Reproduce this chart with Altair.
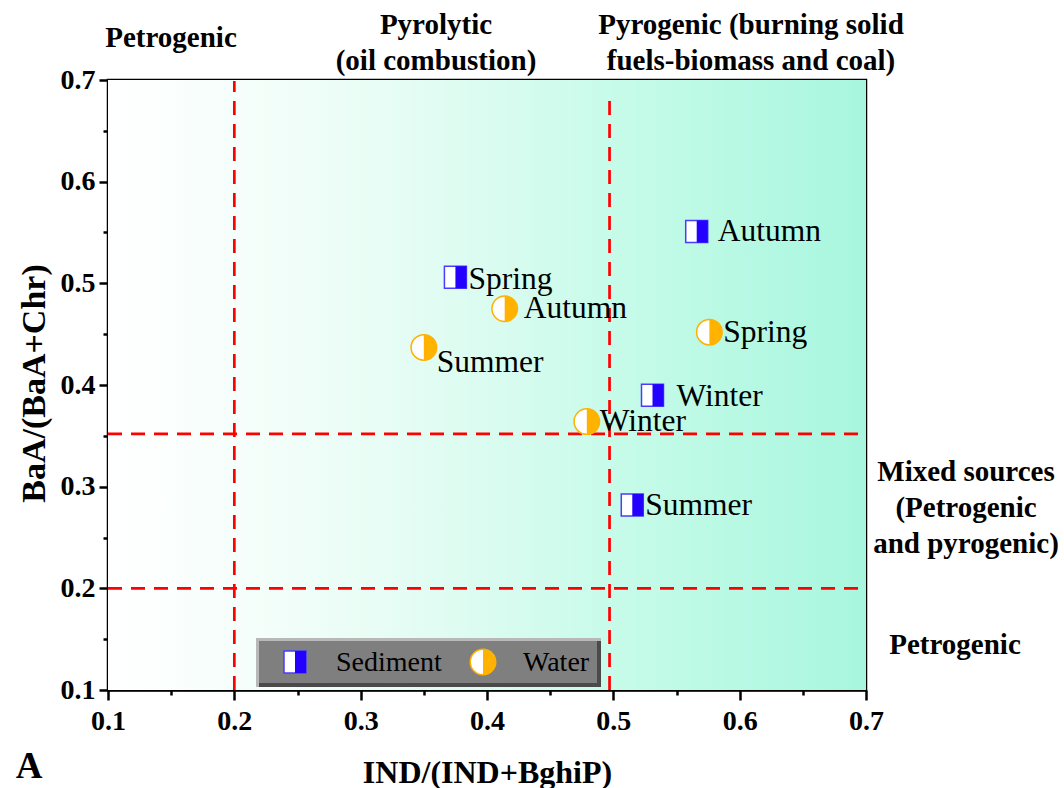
import altair as alt
import pandas as pd

# ---------------- data ----------------
sed_season = ["Spring", "Autumn", "Winter", "Summer"]
sed_x = [0.375, 0.566, 0.531, 0.515]
sed_y = [0.506, 0.551, 0.390, 0.282]

wat_season = ["Autumn", "Summer", "Spring", "Winter"]
wat_x = [0.414, 0.350, 0.576, 0.479]
wat_y = [0.475, 0.437, 0.452, 0.364]

x_ticks = [0.1, 0.15, 0.2, 0.25, 0.3, 0.35, 0.4, 0.45, 0.5, 0.55, 0.6, 0.65, 0.7]
y_ticks = [0.1, 0.15, 0.2, 0.25, 0.3, 0.35, 0.4, 0.45, 0.5, 0.55, 0.6, 0.65, 0.7]

v_lines = [0.2, 0.497]
h_lines = [0.2, 0.352]

# label pixel offsets (layout)
sed_label_off = [(13, 3), (21, 1), (24, 2), (13, 1)]
wat_label_off = [(19, 0), (13, 16), (14, 1), (13, 0)]

# ---------------- layout helpers ----------------
X0, X1, Y0, Y1 = 0.1, 0.7, 0.1, 0.7
W, H = 758, 610
LEFT, TOP = 108, 80


def px2x(px):
    return X0 + (px - LEFT) / W * (X1 - X0)


def py2y(py):
    return Y0 + (TOP + H - py) / H * (Y1 - Y0)


FONT = "Liberation Serif"
BLUE = "#2400ff"
BLUE_EDGE = "#4a3cff"
ORANGE = "#ffb300"
ORANGE_EDGE = "#ffb000"
RED = "#ff0000"

xs = alt.Scale(domain=[X0, X1], nice=False, zero=False)
ys = alt.Scale(domain=[Y0, Y1], nice=False, zero=False)

minor_test = "round(datum.value*100) % 10 != 0"
label_expr = "round(datum.value*100) % 10 == 0 ? format(datum.value, '.1f') : ''"

x_axis = alt.Axis(
    values=x_ticks, labelExpr=label_expr, title="IND/(IND+BghiP)",
    tickSize={"condition": {"test": minor_test, "value": 5}, "value": 10},
    tickWidth=2.5, tickColor="black", domainWidth=2.5, domainColor="black",
    labelFont=FONT, labelFontWeight="bold", labelFontSize=28, labelColor="black",
    labelPadding=7, labelFlush=False, labelOverlap=False, grid=False,
    titleFont=FONT, titleFontWeight="bold", titleFontSize=32, titleColor="black",
    titleY=82, titleBaseline="middle", titleX=W / 2,
)
y_axis = alt.Axis(
    values=y_ticks, labelExpr=label_expr, title="BaA/(BaA+Chr)",
    tickSize={"condition": {"test": minor_test, "value": 5}, "value": 9},
    tickWidth=2.5, tickColor="black", domainWidth=2.5, domainColor="black",
    labelFont=FONT, labelFontWeight="bold", labelFontSize=28, labelColor="black",
    labelPadding=4, labelFlush=False, labelOverlap=False, grid=False,
    titleFont=FONT, titleFontWeight="bold", titleFontSize=34, titleColor="black",
    titleX=34 - LEFT, titleY=H / 2 - 2, titleAngle=-90, titleBaseline="middle",
    titleAlign="center",
)

# ---------------- background gradient ----------------
bg_df = pd.DataFrame({"x": [X0], "x2": [X1], "y": [Y0], "y2": [Y1]})
gradient = alt.LinearGradient(
    gradient="linear",
    stops=[
        alt.GradientStop(color="#ffffff", offset=0),
        alt.GradientStop(color="#f4fefa", offset=0.2),
        alt.GradientStop(color="#e0fcf2", offset=0.45),
        alt.GradientStop(color="#c4fbe8", offset=0.7),
        alt.GradientStop(color="#a8f6de", offset=1),
    ],
    x1=0, x2=1, y1=0, y2=0,
)
background = alt.Chart(bg_df).mark_rect(color=gradient).encode(
    x=alt.X("x:Q", scale=xs, axis=x_axis),
    x2="x2:Q",
    y=alt.Y("y:Q", scale=ys, axis=y_axis),
    y2="y2:Q",
)

# ---------------- dashed lines ----------------
vdf = pd.DataFrame({"x": v_lines, "y": [Y0, Y0], "y2": [Y1 - 0.001, Y1 - 0.012]})
hdf = pd.DataFrame({"y": h_lines, "x": [X0, X0], "x2": [X1, X1]})
vrules = alt.Chart(vdf).mark_rule(color=RED, strokeWidth=2.7, strokeDash=[14, 9]).encode(
    x=alt.X("x:Q", scale=xs), y=alt.Y("y:Q", scale=ys), y2="y2:Q"
)
hrules = alt.Chart(hdf).mark_rule(color=RED, strokeWidth=2.7, strokeDash=[14, 9]).encode(
    y=alt.Y("y:Q", scale=ys), x=alt.X("x:Q", scale=xs), x2="x2:Q"
)

# ---------------- points ----------------
sed_df = pd.DataFrame({"x": sed_x, "y": sed_y, "label": sed_season})
wat_df = pd.DataFrame({"x": wat_x, "y": wat_y, "label": wat_season})

SQ_HALF = "M0,-1H1V1H0Z"
CI_HALF = "M0,-1A1,1,0,0,1,0,1Z"


def sed_marks(df):
    base = alt.Chart(df).encode(x=alt.X("x:Q", scale=xs), y=alt.Y("y:Q", scale=ys))
    a = base.mark_point(shape="square", size=484, filled=True, fill="white",
                        stroke=BLUE_EDGE, strokeWidth=1.5, opacity=1)
    b = base.mark_point(shape=SQ_HALF, size=484, filled=True, fill=BLUE,
                        strokeWidth=0, opacity=1)
    return [a, b]


def wat_marks(df):
    base = alt.Chart(df).encode(x=alt.X("x:Q", scale=xs), y=alt.Y("y:Q", scale=ys))
    a = base.mark_point(shape="circle", size=650, filled=True, fill="white",
                        stroke=ORANGE_EDGE, strokeWidth=1.5, opacity=1)
    b = base.mark_point(shape=CI_HALF, size=650, filled=True, fill=ORANGE,
                        strokeWidth=0, opacity=1)
    return [a, b]


layers = [background, vrules, hrules]
layers += sed_marks(sed_df)
layers += wat_marks(wat_df)

# point labels
for df, offs in ((sed_df, sed_label_off), (wat_df, wat_label_off)):
    for i, (dx, dy) in enumerate(offs):
        layers.append(
            alt.Chart(df.iloc[[i]]).mark_text(
                align="left", baseline="middle", dx=dx, dy=dy,
                font=FONT, fontSize=31.5, color="black"
            ).encode(x=alt.X("x:Q", scale=xs), y=alt.Y("y:Q", scale=ys), text="label:N")
        )

# ---------------- region annotations ----------------
ann_text = [
    "Petrogenic",
    "Pyrolytic\n(oil combustion)",
    "Pyrogenic (burning solid\nfuels-biomass and coal)",
    "Mixed sources\n(Petrogenic\nand pyrogenic)",
    "Petrogenic",
]
ann_df = pd.DataFrame({
    "x": [px2x(171), px2x(436), px2x(751), px2x(966), px2x(955)],
    "y": [py2y(38), py2y(25), py2y(25), py2y(472), py2y(645)],
    "text": ann_text,
})
ann = alt.Chart(ann_df).mark_text(
    font=FONT, fontWeight="bold", fontSize=29, color="black",
    align="center", baseline="middle", lineBreak="\n", lineHeight=36,
).encode(x=alt.X("x:Q", scale=xs), y=alt.Y("y:Q", scale=ys), text="text:N")
layers.append(ann)

panel_df = pd.DataFrame({"x": [px2x(29)], "y": [py2y(786)], "text": ["A"]})
panel = alt.Chart(panel_df).mark_text(
    font=FONT, fontWeight="bold", fontSize=37, color="black",
    align="center", baseline="bottom",
).encode(x=alt.X("x:Q", scale=xs), y=alt.Y("y:Q", scale=ys), text="text:N")
layers.append(panel)

# ---------------- manual legend ----------------
box = pd.DataFrame({
    "x": [px2x(256), px2x(259), px2x(259)],
    "x2": [px2x(601), px2x(601), px2x(597)],
    "y": [py2y(687), py2y(687), py2y(683)],
    "y2": [py2y(638), py2y(641), py2y(641)],
    "c": ["#b8b8b8", "#4a4a4a", "#7f7f7f"],
    "o": [0, 1, 2],
})
legend_box = alt.Chart(box).mark_rect().encode(
    x=alt.X("x:Q", scale=xs), x2="x2:Q",
    y=alt.Y("y:Q", scale=ys), y2="y2:Q",
    color=alt.Color("c:N", scale=None), order="o:Q",
)
layers.append(legend_box)

leg_sed = pd.DataFrame({"x": [px2x(295)], "y": [py2y(662)]})
leg_wat = pd.DataFrame({"x": [px2x(483)], "y": [py2y(662)]})
layers += sed_marks(leg_sed)
layers += wat_marks(leg_wat)
leg_txt = pd.DataFrame({
    "x": [px2x(336), px2x(523)], "y": [py2y(663), py2y(663)],
    "text": ["Sediment", "Water"],
})
layers.append(
    alt.Chart(leg_txt).mark_text(
        font=FONT, fontSize=28, color="black", align="left", baseline="middle"
    ).encode(x=alt.X("x:Q", scale=xs), y=alt.Y("y:Q", scale=ys), text="text:N")
)

chart = alt.layer(*layers).properties(
    width=W, height=H,
    padding={"left": LEFT, "top": TOP, "right": 1064 - LEFT - W, "bottom": 788 - TOP - H},
    autosize="none",
    background="white",
).configure_view(stroke="black", strokeWidth=2.5)

chart.save("out.html", embed_options={"renderer": "svg", "actions": False})
